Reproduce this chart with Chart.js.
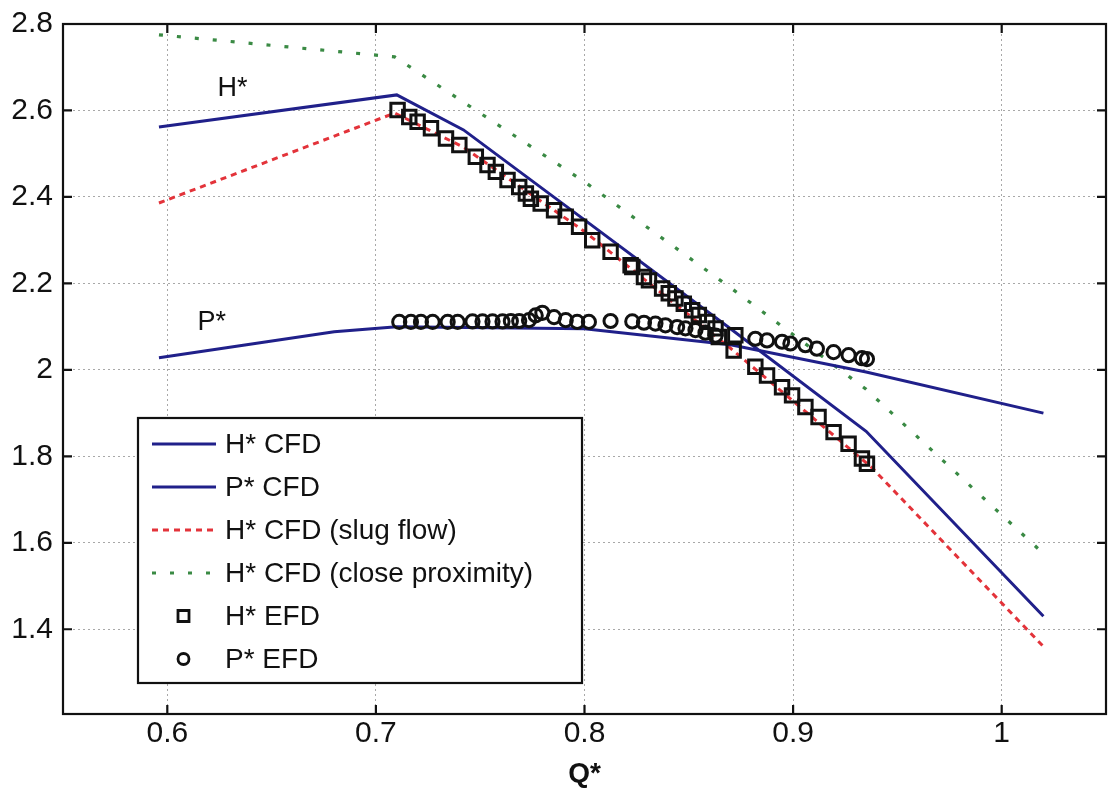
<!DOCTYPE html>
<html>
<head>
<meta charset="utf-8">
<script src="https://cdn.jsdelivr.net/npm/chart.js@4.4.0/dist/chart.umd.min.js"></script>
<style>
  html, body { margin: 0; padding: 0; background: #fff; overflow: hidden; }
  #wrap { width: 1112px; height: 795px; position: relative; }
  #qhChart { display: block; }
</style>
</head>
<body>
<div id="wrap"><canvas id="qhChart"></canvas></div>
<script>
// ticks
const xTicks = [0.6, 0.7, 0.8, 0.9, 1.0];
const yTicks = [1.4, 1.6, 1.8, 2.0, 2.2, 2.4, 2.6, 2.8];

// CFD curves
const hCfdQ = [0.596, 0.710, 0.742, 0.800, 0.870, 0.935, 1.020];
const hCfd  = [2.562, 2.636, 2.555, 2.347, 2.095, 1.858, 1.430];

const pCfdQ = [0.596, 0.680, 0.710, 0.800, 0.870, 0.935, 1.020];
const pCfd  = [2.028, 2.088, 2.100, 2.095, 2.058, 1.995, 1.900];

const slugQ = [0.596, 0.709, 0.742, 0.800, 0.870, 0.9375, 1.020];
const slug  = [2.386, 2.594, 2.515, 2.320, 2.050, 1.775, 1.360];

const closeQ = [0.596, 0.709, 0.800, 0.870, 0.935, 1.020];
const close  = [2.775, 2.724, 2.435, 2.190, 1.955, 1.575];

// EFD measurements
const hEfdQ = [0.7104, 0.7160, 0.7200, 0.7264, 0.7336, 0.7400, 0.7479, 0.7535, 0.7575, 0.7631,
               0.7687, 0.7719, 0.7743, 0.7790, 0.7854, 0.7910, 0.7974, 0.8037, 0.8125, 0.8221,
               0.8229, 0.8285, 0.8309, 0.8372, 0.8404, 0.8436, 0.8476, 0.8516, 0.8548, 0.8588,
               0.8628, 0.8644, 0.8723, 0.8715, 0.8819, 0.8875, 0.8947, 0.8995, 0.9059, 0.9122,
               0.9194, 0.9266, 0.9330, 0.9354];
const hEfd  = [2.601, 2.585, 2.574, 2.559, 2.535, 2.520, 2.493, 2.474, 2.458, 2.439,
               2.423, 2.408, 2.396, 2.385, 2.369, 2.354, 2.331, 2.300, 2.273, 2.242,
               2.238, 2.215, 2.207, 2.188, 2.177, 2.165, 2.153, 2.138, 2.127, 2.111,
               2.096, 2.076, 2.080, 2.045, 2.007, 1.987, 1.960, 1.941, 1.914, 1.891,
               1.856, 1.829, 1.795, 1.783];

const pEfdQ = [0.7112, 0.7168, 0.7216, 0.7272, 0.7344, 0.7392, 0.7463, 0.7511, 0.7559, 0.7607,
               0.7647, 0.7687, 0.7734, 0.7766, 0.7798, 0.7854, 0.7910, 0.7965, 0.8021, 0.8125,
               0.8229, 0.8285, 0.8340, 0.8388, 0.8444, 0.8484, 0.8532, 0.8580, 0.8628, 0.8819,
               0.8875, 0.8947, 0.8987, 0.9059, 0.9114, 0.9194, 0.9266, 0.9330, 0.9354];
const pEfd  = [2.111, 2.111, 2.111, 2.111, 2.111, 2.111, 2.112, 2.112, 2.112, 2.112,
               2.113, 2.113, 2.115, 2.126, 2.132, 2.122, 2.115, 2.111, 2.111, 2.113,
               2.112, 2.109, 2.107, 2.103, 2.099, 2.096, 2.092, 2.086, 2.079, 2.072,
               2.068, 2.065, 2.061, 2.057, 2.049, 2.041, 2.034, 2.027, 2.025];

// text labels on the curves
const curveLabels = [
    { text: 'H*', q: 0.6313, v: 2.650 },
    { text: 'P*', q: 0.6213, v: 2.110 }
];

const FONT = "'Liberation Sans', Arial, Helvetica, sans-serif";
const BLUE = '#20208a';
const RED = '#e3333a';
const GREEN = '#3a8a44';

const pts = (xs, ys) => xs.map((x, i) => ({ x: x, y: ys[i] }));

function lineSet(label, xs, ys, color, dash, width) {
    return {
        label: label,
        data: pts(xs, ys),
        showLine: true,
        borderColor: color,
        backgroundColor: color,
        borderWidth: width,
        borderDash: dash,
        pointRadius: 0,
        pointHoverRadius: 0,
        tension: 0,
        order: 2
    };
}

function markerSet(label, xs, ys, style, radius) {
    return {
        label: label,
        data: pts(xs, ys),
        showLine: false,
        pointStyle: style,
        pointRadius: radius,
        pointBorderWidth: 3,
        borderColor: '#111',
        backgroundColor: 'rgba(0,0,0,0)',
        order: 1
    };
}

const datasets = [
    lineSet('H* CFD', hCfdQ, hCfd, BLUE, [], 3),
    lineSet('P* CFD', pCfdQ, pCfd, BLUE, [], 3),
    lineSet('H* CFD (slug flow)', slugQ, slug, RED, [6, 5], 3),
    lineSet('H* CFD (close proximity)', closeQ, close, GREEN, [4, 14], 3.2),
    markerSet('H* EFD', hEfdQ, hEfd, 'rect', 9.5),
    markerSet('P* EFD', pEfdQ, pEfd, 'circle', 6.6)
];

// рамка, внутренние засечки, подписи кривых и легенда
const decorPlugin = {
    id: 'decor',
    afterDatasetsDraw(chart) {
        const { ctx, chartArea: a, scales: { x, y } } = chart;
        ctx.save();

        // labels near curves
        ctx.fillStyle = '#111';
        ctx.font = '27px ' + FONT;
        ctx.textAlign = 'center';
        ctx.textBaseline = 'middle';
        curveLabels.forEach(l => {
            ctx.fillText(l.text, x.getPixelForValue(l.q), y.getPixelForValue(l.v));
        });

        // legend box
        const bx = 138, by = 418, bw = 444, bh = 265;
        ctx.fillStyle = '#fff';
        ctx.fillRect(bx, by, bw, bh);
        ctx.strokeStyle = '#111';
        ctx.lineWidth = 2.2;
        ctx.strokeRect(bx, by, bw, bh);

        ctx.font = '28px ' + FONT;
        ctx.textAlign = 'left';
        chart.data.datasets.forEach((ds, i) => {
            const cy = by + 26 + i * 43;
            if (ds.showLine) {
                ctx.strokeStyle = ds.borderColor;
                ctx.lineWidth = ds.borderWidth;
                ctx.setLineDash(ds.borderDash || []);
                ctx.beginPath();
                ctx.moveTo(152, cy);
                ctx.lineTo(216, cy);
                ctx.stroke();
                ctx.setLineDash([]);
            } else {
                ctx.strokeStyle = '#111';
                ctx.lineWidth = 2.8;
                ctx.beginPath();
                if (ds.pointStyle === 'rect') {
                    ctx.rect(178, cy - 5.5, 11, 11);
                } else {
                    ctx.arc(183.5, cy, 5.5, 0, Math.PI * 2);
                }
                ctx.stroke();
            }
            ctx.fillStyle = '#111';
            ctx.fillText(ds.label, 225, cy + 1);
        });

        // axes box
        ctx.strokeStyle = '#111';
        ctx.lineWidth = 2.2;
        ctx.strokeRect(a.left, a.top, a.right - a.left, a.bottom - a.top);

        // inward ticks
        const len = 9;
        ctx.beginPath();
        xTicks.forEach(v => {
            const px = x.getPixelForValue(v);
            ctx.moveTo(px, a.bottom); ctx.lineTo(px, a.bottom - len);
            ctx.moveTo(px, a.top); ctx.lineTo(px, a.top + len);
        });
        yTicks.forEach(v => {
            const py = y.getPixelForValue(v);
            ctx.moveTo(a.left, py); ctx.lineTo(a.left + len, py);
            ctx.moveTo(a.right, py); ctx.lineTo(a.right - len, py);
        });
        ctx.stroke();
        ctx.restore();
    }
};

const gridOpts = {
    color: '#a8a8a8',
    lineWidth: 1,
    drawTicks: false
};

const ctx = document.getElementById('qhChart').getContext('2d');
const qhChart = new Chart(ctx, {
    type: 'scatter',
    data: { datasets: datasets },
    options: {
        responsive: true,
        maintainAspectRatio: false,
        animation: false,
        layout: { autoPadding: false, padding: { top: 24, right: 6, left: 0, bottom: 0 } },
        plugins: {
            legend: { display: false },
            tooltip: { enabled: false }
        },
        scales: {
            x: {
                type: 'linear',
                min: 0.55,
                max: 1.05,
                afterBuildTicks: s => { s.ticks = xTicks.map(v => ({ value: v })); },
                afterFit: s => { s.height = 81; s.paddingLeft = 0; s.paddingRight = 0; },
                grid: gridOpts,
                border: { display: false, dash: [2, 3] },
                ticks: {
                    padding: 2,
                    color: '#111',
                    font: { family: FONT, size: 30 },
                    callback: v => String(+v.toFixed(2))
                },
                title: {
                    display: true,
                    text: 'Q*',
                    color: '#111',
                    font: { family: FONT, size: 28, weight: 'bold' },
                    padding: { top: 0, bottom: 4 }
                }
            },
            y: {
                type: 'linear',
                min: 1.204,
                max: 2.8,
                afterBuildTicks: s => { s.ticks = yTicks.map(v => ({ value: v })); },
                afterFit: s => { s.width = 63; s.paddingTop = 0; s.paddingBottom = 0; },
                grid: gridOpts,
                border: { display: false, dash: [2, 3] },
                ticks: {
                    padding: 10,
                    color: '#111',
                    font: { family: FONT, size: 30 },
                    callback: v => String(+v.toFixed(2))
                }
            }
        }
    },
    plugins: [decorPlugin]
});
</script>
</body>
</html>
